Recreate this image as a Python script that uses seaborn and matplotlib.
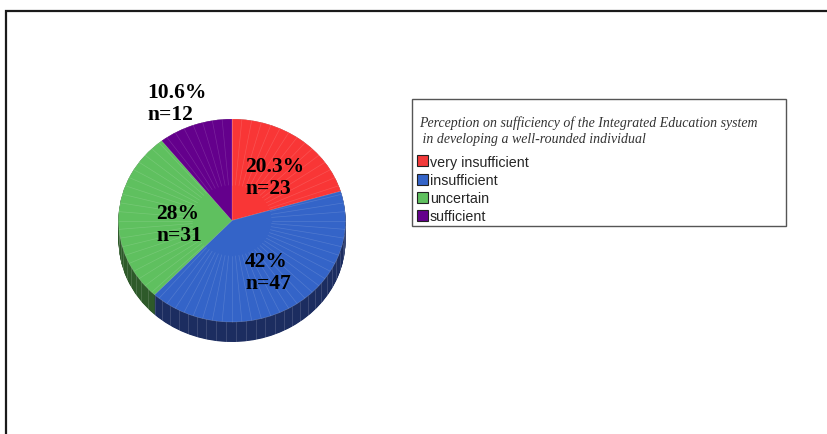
import numpy as np
import matplotlib
matplotlib.use("Agg")
import matplotlib.pyplot as plt
from matplotlib.patches import Patch, Rectangle
import seaborn as sns

sns.set_theme(style="white")
plt.rcParams["font.family"] = ["Liberation Sans", "DejaVu Sans"]

# Survey responses
categories = ["very insufficient", "insufficient", "uncertain", "sufficient"]
counts = [23, 47, 31, 12]
pct_labels = ["20.3%", "42%", "28%", "10.6%"]
title = ("Perception on sufficiency of the Integrated Education system\n"
         " in developing a well-rounded individual")

top_colors = ["#f93636", "#3464c8", "#5fc05f", "#64008c"]
side_colors = ["#8c1d1d", "#1c2d60", "#2e5a2a", "#380050"]
swatch_colors = ["#f23a3a", "#3464c8", "#5fc05f", "#64008c"]

W, H = 827, 435
fig = plt.figure(figsize=(W / 100, H / 100), dpi=100)


def fx(x):
    return x / W


def fy(y):
    return 1 - y / H


# Outer frame
fig.patches.append(Rectangle((fx(6), fy(470)), fx(900), fy(11.5) - fy(470),
                             transform=fig.transFigure, fill=False,
                             edgecolor="#1a1a1a", linewidth=1.6))

# Pie axes: an elliptical (tilted) pie with an extruded rim
cx, cy, rx, ry = 232, 221.5, 113.5, 101.5
left, right, top, bottom = 100, 370, 100, 370
ax = fig.add_axes([fx(left), fy(bottom), (right - left) / W, (bottom - top) / H])

depth = 20 / ry
for d in np.linspace(depth, 0.0, 40):
    ax.pie(counts, colors=side_colors, startangle=90, counterclock=False,
           center=(0, -d), radius=1, wedgeprops=dict(linewidth=0))

# Faint facet streaks on the rim
rim = np.deg2rad(np.arange(182, 360, 5))
for a in rim:
    ax.plot([np.cos(a)] * 2, [np.sin(a), np.sin(a) - depth],
            color="white", alpha=0.16, lw=0.6, zorder=2)

wedges, _ = ax.pie(counts, colors=top_colors, startangle=90, counterclock=False,
                   center=(0, 0), radius=1,
                   wedgeprops=dict(linewidth=0.4, edgecolor=(1, 1, 1, 0.25)))
for w in wedges:
    w.set_zorder(3)

# Faint radial facet streaks on the top face
for a in np.deg2rad(np.arange(0, 360, 5)):
    ax.plot([0.35 * np.cos(a), np.cos(a)], [0.35 * np.sin(a), np.sin(a)],
            color="white", alpha=0.14, lw=0.5, zorder=4)

ax.set_aspect("auto")
ax.set_xlim((left - cx) / rx, (right - cx) / rx)
ax.set_ylim((cy - bottom) / ry, (cy - top) / ry)
ax.axis("off")

# Slice labels
label_pos = [(245, 178), (245, 273), (156, 225), (147, 104)]
for (x, y), p, n in zip(label_pos, pct_labels, counts):
    fig.text(fx(x), fy(y), f"{p}\nn={n}", ha="left", va="center",
             family=["Liberation Serif", "DejaVu Serif"], fontweight="bold",
             fontsize=15.5, linespacing=1.15, color="black")

# Legend box with its two-line title
fig.patches.append(Rectangle((fx(412), fy(227)), (786 - 412) / W, fy(100) - fy(227),
                             transform=fig.transFigure, fill=False,
                             edgecolor="#555555", linewidth=1.0))
fig.text(fx(419), fy(131), title, ha="left", va="center",
         family=["Liberation Serif", "DejaVu Serif"], fontstyle="italic",
         fontsize=10.0, linespacing=1.25, color="#333333")

handles = [Patch(facecolor=c, edgecolor="#222222", linewidth=0.8) for c in swatch_colors]
leg = fig.legend(handles, categories, loc="upper left",
                 bbox_to_anchor=(fx(414), fy(153)), frameon=False,
                 fontsize=10.3,
                 handlelength=0.8, handleheight=0.8, handletextpad=0.1,
                 labelspacing=0.29, borderpad=0.2, borderaxespad=0)

fig.savefig("out.png", dpi=100)
